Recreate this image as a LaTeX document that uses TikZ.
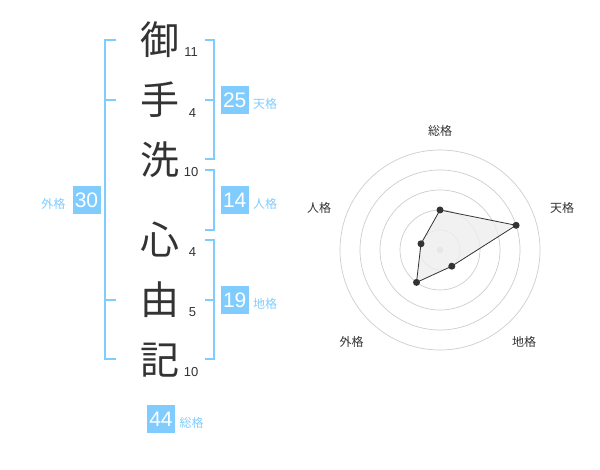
\documentclass[tikz,border=0pt]{standalone}
\usepackage{fontspec}
\setmainfont{Liberation Sans}
\newfontfamily\cjk{Noto Sans CJK JP}
\definecolor{sky}{RGB}{128,204,255}
\definecolor{ink}{RGB}{51,51,51}
\definecolor{ringc}{RGB}{205,205,205}
\definecolor{polyfill}{RGB}{238,238,238}
\tikzset{
  kanji/.style={font=\cjk\fontsize{39}{39}\selectfont, text=ink, inner sep=0},
  strokes/.style={font=\fontsize{13}{13}\selectfont, text=ink, inner sep=0},
  scorebox/.style={fill=sky, text=white, minimum width=28, minimum height=28, inner sep=0, font=\fontsize{21}{21}\selectfont},
  scorelabel/.style={font=\cjk\fontsize{12}{12}\selectfont, text=sky, inner sep=0},
  bracket/.style={draw=sky, line width=2},
  ringline/.style={draw=ringc, line width=0.7},
  axislabel/.style={font=\cjk\fontsize{12}{12}\selectfont, text=ink, inner sep=0},
  dot/.style={circle, fill=ink, inner sep=0, minimum size=7},
}
\begin{document}
\begin{tikzpicture}[x=1pt,y=-1pt]
\useasboundingbox (0,0) rectangle (600,470);
% kanji
\node[kanji] (k1) at (160,40) {御};
\node[kanji] (k2) at (160,100) {手};
\node[kanji] (k3) at (160,160) {洗};
\node[kanji] (k4) at (160,240) {心};
\node[kanji] (k5) at (160,300) {由};
\node[kanji] (k6) at (160,360) {記};
% stroke counts
\node[strokes] (s1) at (191,52.5) {11};
\node[strokes] (s2) at (192.5,113) {4};
\node[strokes] (s3) at (191,172.5) {10};
\node[strokes] (s4) at (192.5,252.5) {4};
\node[strokes] (s5) at (192.5,312.5) {5};
\node[strokes] (s6) at (191,372.5) {10};
% brackets
\draw[bracket] (116,40) -- (105,40) -- (105,359) -- (116,359);
\draw[bracket] (105,100) -- (116,100);
\draw[bracket] (105,300) -- (116,300);
\draw[bracket] (205,40) -- (214,40) -- (214,159) -- (205,159);
\draw[bracket] (205,100) -- (214,100);
\draw[bracket] (205,170) -- (214,170) -- (214,230) -- (205,230);
\draw[bracket] (205,240) -- (214,240) -- (214,359) -- (205,359);
\draw[bracket] (205,300) -- (214,300);
% score boxes
\node[scorebox] (ten) at (234.7,100.3) {25};
\node[scorelabel, anchor=west] (tenl) at (253,103.7) {天格};
\node[scorebox] (jin) at (234.7,200.3) {14};
\node[scorelabel, anchor=west] (jinl) at (253,203.7) {人格};
\node[scorebox] (chi) at (234.7,300.3) {19};
\node[scorelabel, anchor=west] (chil) at (253,303.7) {地格};
\node[scorebox] (gai) at (86.5,200.3) {30};
\node[scorelabel, anchor=east] (gail) at (65.5,203.7) {外格};
\node[scorebox] (sou) at (161,419) {44};
\node[scorelabel, anchor=west] (soul) at (179.5,422.7) {総格};
% radar
\coordinate (c) at (440,250);
\foreach \r in {20,40,60,80,100} \draw[ringline] (c) circle[radius=\r];
\fill[ringc] (c) circle[radius=3.5];
\coordinate (p1) at (440,210);
\coordinate (p2) at (516.1,225.3);
\coordinate (p3) at (451.8,266.2);
\coordinate (p4) at (416.5,282.4);
\coordinate (p5) at (421,243.8);
\filldraw[fill=polyfill, fill opacity=0.8, draw=ink, line width=0.8] (p1) -- (p2) -- (p3) -- (p4) -- (p5) -- cycle;
\foreach \p in {p1,p2,p3,p4,p5} \node[dot] at (\p) {};
\node[axislabel] (a1) at (440,130.5) {総格};
\node[axislabel] (a2) at (562,208) {天格};
\node[axislabel] (a3) at (524,342) {地格};
\node[axislabel] (a4) at (351.5,342) {外格};
\node[axislabel] (a5) at (319,208) {人格};
\end{tikzpicture}
\end{document}
